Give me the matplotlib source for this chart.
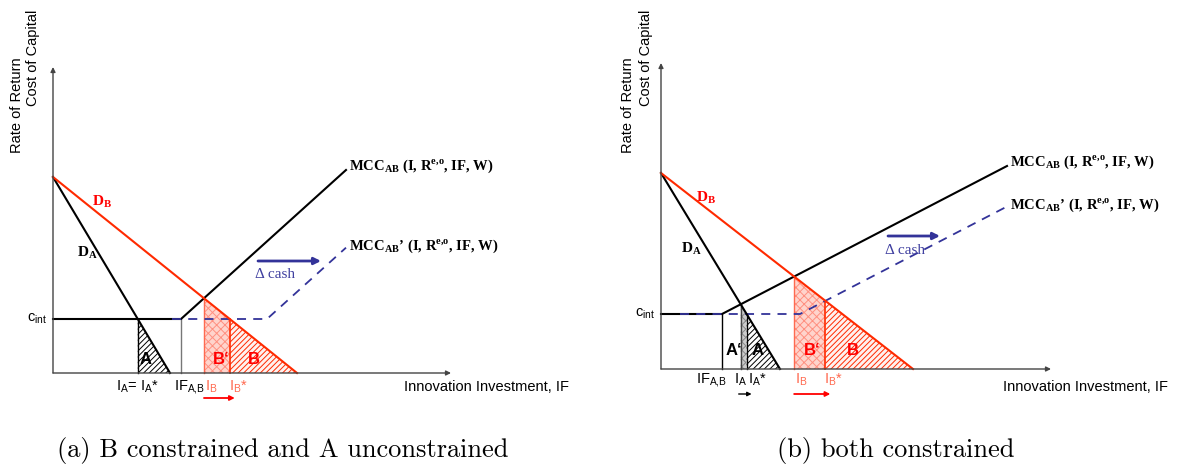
import matplotlib
matplotlib.use("Agg")
import matplotlib.pyplot as plt
from matplotlib.patches import Polygon

plt.rcParams['mathtext.fontset'] = 'custom'
plt.rcParams['mathtext.rm'] = 'Liberation Sans'
plt.rcParams['mathtext.sf'] = 'Liberation Sans'
plt.rcParams['mathtext.it'] = 'Liberation Sans:italic'
plt.rcParams['mathtext.bf'] = 'Liberation Serif:bold'
plt.rcParams['hatch.linewidth'] = 0.7

# values (arbitrary units, origin at the axis corner)
captions = ["(a) B constrained and A unconstrained", "(b) both constrained"]
d_intercept = [196, 196]      # D_A and D_B start on the rate axis
da_end = [117, 119]           # D_A hits the IF axis
db_end = [244, 252]           # D_B hits the IF axis
c_int = [54, 55]              # internal cost of capital
if_ab = [128, 61]             # internal funds of A and B (kink of MCC)
mcc_end = [(293, 203), (346, 203)]
mcc2_kink = [214, 139]        # MCC' kink after the cash shift
mcc2_start = [119, 19]
y_top = [306, 306]
x_end = [398, 390]

RED = '#ff2a00'
LRED = '#ff6a50'
NAVY = '#333399'
FS = 10.5

fig = plt.figure(figsize=(11.82, 4.65), dpi=100)
ax_a = fig.add_axes([0, 0, 0.5, 1])
ax_b = fig.add_axes([0.5, 0, 0.5, 1])
ax_a.set_xlim(-53, 538)
ax_a.set_ylim(-92, 373)
ax_b.set_xlim(-70, 521)
ax_b.set_ylim(-96, 369)


def cross(d, e, c, k, s):
    # where a falling demand line meets the flat-then-rising cost curve
    x = e * (1 - c / d)
    if x <= k:
        return x
    return (d - c + s * k) / (d / e + s)


def arrow(ax, x0, y0, x1, y1, color, lw=1.0, ms=8):
    ax.annotate('', xy=(x1, y1), xytext=(x0, y0), annotation_clip=False,
                arrowprops=dict(arrowstyle='-|>', color=color, lw=lw,
                                mutation_scale=ms, shrinkA=0, shrinkB=0))


MCC_TXT = r'$\mathbf{MCC}_{\mathbf{AB}}$ (I, R$^{\mathbf{e{,}o}}$, IF, W)'
MCC2_TXT = r'$\mathbf{MCC}_{\mathbf{AB}}$’ (I, R$^{\mathbf{e{,}o}}$, IF, W)'
IFAB_TXT = r'IF$_{\mathrm{A{,}B}}$'

for i, ax in enumerate([ax_a, ax_b]):
    ax.axis('off')
    d, ea, eb, c, k = d_intercept[i], da_end[i], db_end[i], c_int[i], if_ab[i]
    mx, my = mcc_end[i]
    s = (my - c) / (mx - k)
    k2 = mcc2_kink[i]

    def da(x):
        return d * (1 - x / ea)

    def db(x):
        return d * (1 - x / eb)

    ia = cross(d, ea, c, k, s)
    ia_star = cross(d, ea, c, k2, s)
    ib = cross(d, eb, c, k, s)
    ib_star = cross(d, eb, c, k2, s)

    # axes
    arrow(ax, 0, 0, 0, y_top[i], '#444444', lw=1.0, ms=7)
    arrow(ax, 0, 0, x_end[i], 0, '#444444', lw=1.0, ms=7)

    # shaded areas
    if ia_star > ia + 0.5:
        ax.add_patch(Polygon([(ia, 0), (ia, da(ia)), (ia_star, da(ia_star)), (ia_star, 0)],
                             closed=True, facecolor='#cccccc', edgecolor='#888888',
                             hatch='xxxx', lw=0))
        ax.plot([ia, ia], [0, da(ia)], color='#444444', lw=1.0)
    ax.add_patch(Polygon([(ia_star, 0), (ia_star, da(ia_star)), (ea, 0)], closed=True,
                         facecolor='white', edgecolor='black', hatch='//////', lw=0))
    ax.plot([ia_star, ia_star], [0, da(ia_star)], color='black', lw=1.0)
    ax.add_patch(Polygon([(ib, 0), (ib, db(ib)), (ib_star, db(ib_star)), (ib_star, 0)],
                         closed=True, facecolor='#ffd4cc', edgecolor='#ff9080',
                         hatch='xxxx', lw=0))
    ax.add_patch(Polygon([(ib_star, 0), (ib_star, db(ib_star)), (eb, 0)], closed=True,
                         facecolor='#fff2ef', edgecolor=RED, hatch='//////', lw=0))
    ax.plot([ib, ib], [0, db(ib)], color=LRED, lw=1.0)
    ax.plot([ib_star, ib_star], [0, db(ib_star)], color=RED, lw=1.2)

    # internal funds marker
    ax.plot([k, k], [0, c], color='#777777' if i == 0 else 'black', lw=1.0)

    # cost of capital curves
    ax.plot([0, k, mx], [c, c, my], color='black', lw=1.5)
    ax.plot([mcc2_start[i], k2, mx], [c, c, c + s * (mx - k2)], color=NAVY,
            lw=1.3, ls=(0, (5, 4)))

    # demand curves
    ax.plot([0, ea], [d, 0], color='black', lw=1.5)
    ax.plot([0, eb], [d, 0], color=RED, lw=1.5)

    # region labels
    if i == 0:
        ax.text(ia_star + 8, 14, 'A', ha='center', va='center', fontsize=12,
                fontweight='bold', family='Liberation Sans')
        ax.text((ib + ib_star) / 2 + 4, 14, 'B‘', ha='center', va='center',
                fontsize=12, fontweight='bold', color='red', family='Liberation Sans')
        ax.text(ib_star + 24, 14, 'B', ha='center', va='center', fontsize=12,
                fontweight='bold', color='red', family='Liberation Sans')
    else:
        ax.text(ia - 7, 19, 'A‘', ha='center', va='center', fontsize=12,
                fontweight='bold', family='Liberation Sans')
        ax.text(ia_star + 11, 19, 'A', ha='center', va='center', fontsize=12,
                fontweight='bold', family='Liberation Sans')
        ax.text((ib + ib_star) / 2 + 2, 19, 'B‘', ha='center', va='center',
                fontsize=12, fontweight='bold', color='red', family='Liberation Sans')
        ax.text(ib_star + 28, 19, 'B', ha='center', va='center', fontsize=12,
                fontweight='bold', color='red', family='Liberation Sans')

    # curve labels
    dx = [0, -4][i]
    ax.text(49 + dx, 171, r'$\mathbf{D}_{\mathbf{B}}$', color='red', fontsize=11,
            ha='center', va='center')
    ax.text(34 + dx, 120, r'$\mathbf{D}_{\mathbf{A}}$', color='black', fontsize=11,
            ha='center', va='center')
    ax.text(mx + 3, my + 4, MCC_TXT, family='Liberation Serif', fontweight='bold',
            fontsize=10.5, ha='left', va='center')
    ax.text(mx + 3, c + s * (mx - k2) + 1, MCC2_TXT, family='Liberation Serif',
            fontweight='bold', fontsize=10.5, ha='left', va='center')

    # cash shift arrow
    ay = [112, 133][i]
    ax0 = [205, 227][i]
    arrow(ax, ax0, ay, ax0 + [63, 52][i], ay, NAVY, lw=2.0, ms=10)
    ax.text(ax0 - 3, ay - 14, 'Δ cash', color='#4040a0', fontsize=11,
            family='Liberation Serif', ha='left', va='center')

    # axis texts
    ax.text(-6, c, r'$\mathrm{c}_{\mathrm{int}}$', fontsize=FS, ha='right',
            va='center', family='Liberation Sans')
    ax.text(x_end[i] - 47 + [0, -1][i], [-14, -18][i], 'Innovation Investment, IF',
            fontsize=FS, family='Liberation Sans', ha='left', va='center')
    ax.text([-36, -33][i], [268, 264][i], 'Rate of Return', rotation=90,
            fontsize=FS, family='Liberation Sans', ha='center', va='center')
    ax.text([-20, -15][i], [315, 311][i], 'Cost of Capital', rotation=90,
            fontsize=FS, family='Liberation Sans', ha='center', va='center')

    ly = [-14, -11][i]
    if i == 0:
        ax.text(ia_star, ly, r'$\mathrm{I}_{\mathrm{A}}$= $\mathrm{I}_{\mathrm{A}}$*',
                fontsize=FS, family='Liberation Sans', ha='center', va='center')
        ax.text(k - 7, ly, IFAB_TXT, fontsize=FS,
                family='Liberation Sans', ha='left', va='center')
    else:
        ax.text(k + 5, ly, IFAB_TXT, fontsize=FS,
                family='Liberation Sans', ha='right', va='center')
        ax.text(ia, ly, r'$\mathrm{I}_{\mathrm{A}}$', fontsize=FS,
                family='Liberation Sans', ha='center', va='center')
        ax.text(ia_star + 1, ly, r'$\mathrm{I}_{\mathrm{A}}$*', fontsize=FS,
                family='Liberation Sans', ha='left', va='center')
        arrow(ax, ia - 2, -25, ia_star + 5, -25, 'black', lw=1.0, ms=6)
    ax.text(ib + 1, ly, r'$\mathrm{I}_{\mathrm{B}}$', fontsize=FS, color=LRED,
            family='Liberation Sans', ha='left', va='center')
    ax.text(ib_star - 1, ly, r'$\mathrm{I}_{\mathrm{B}}$*', fontsize=FS, color=LRED,
            family='Liberation Sans', ha='left', va='center')
    arrow(ax, ib, -25, ib_star + 5, -25, 'red', lw=1.3, ms=7)

fig.text(283 / 1182, 1 - 450 / 465, captions[0], family='cmr10', fontsize=19,
         ha='center', va='center')
fig.text(896 / 1182, 1 - 450 / 465, captions[1], family='cmr10', fontsize=19,
         ha='center', va='center')

fig.savefig('out.png', dpi=100, facecolor='white')
